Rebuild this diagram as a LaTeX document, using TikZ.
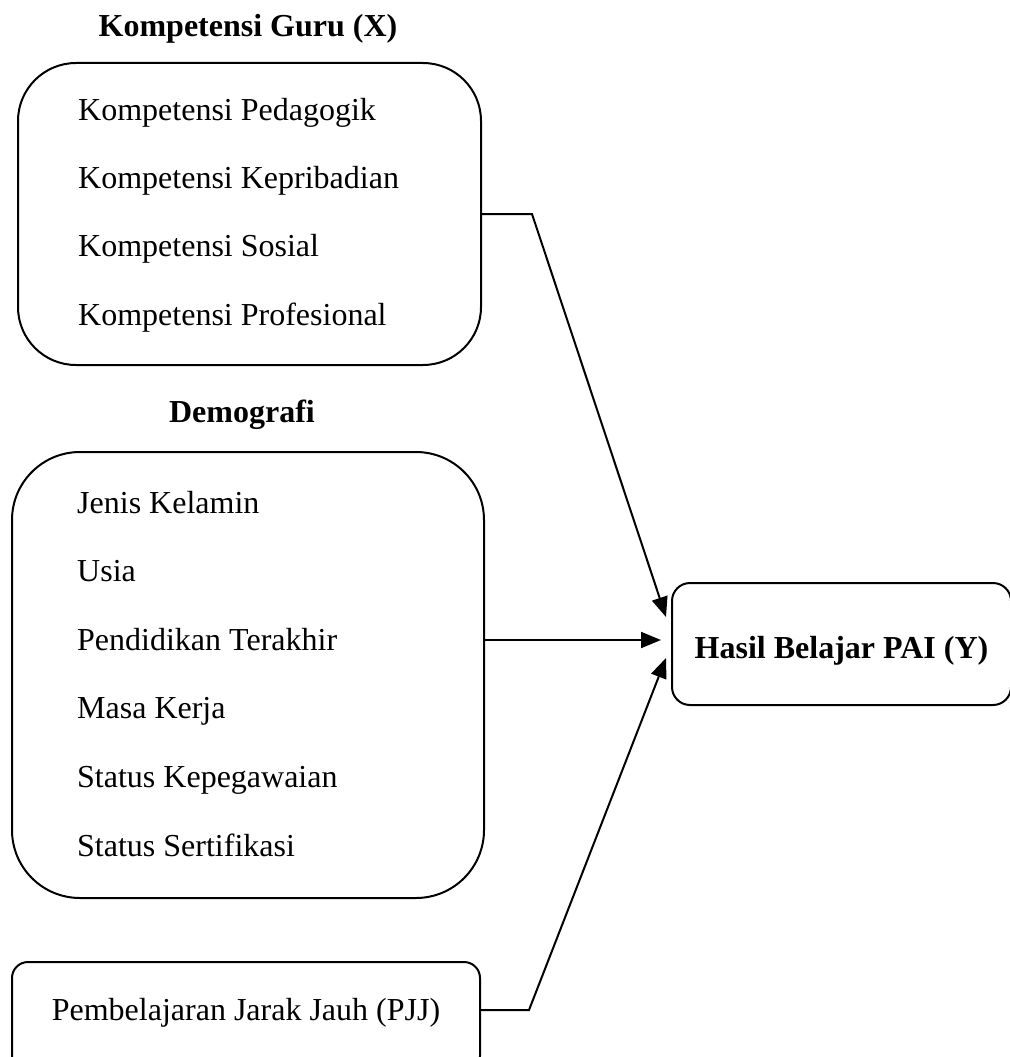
\documentclass[tikz,border=0pt]{standalone}
\usepackage{fontspec}
\setmainfont{Liberation Serif}
\usepackage{tikz}
\usetikzlibrary{shapes,arrows.meta}
\newcommand{\grupbox}[5] {\node at (#1) (#2) [rectangle, draw, line width=2pt, rounded corners=#5, minimum width=#3, minimum height=#4] {};}
\newcommand{\textbox}[7] {\node at (#1) (#2) [rectangle, draw, line width=2pt, rounded corners=#5, minimum width=#3, minimum height=#4, inner sep=0pt, #7] {#6};}
\newcommand{\butir}[3] {\node at (#1) (#2) [anchor=base west, inner sep=0pt] {#3};}
\newcommand{\judul}[3] {\node at (#1) (#2) [anchor=base, inner sep=0pt, font=\fontsize{32}{38}\selectfont\bfseries] {#3};}
\newcommand{\panah}[3] {\draw [line width=2pt, -{Triangle[length=20pt,width=16pt]}] (#1) -- (#2) -- (#3);}

\begin{document}
\begin{tikzpicture}[x=1pt, y=-1pt, font=\fontsize{32}{38}\selectfont]

\useasboundingbox (0,0) rectangle (1009,1057);

\judul{248,37}{judulX}{Kompetensi Guru (X)}
\grupbox{249.5,214}{kompetensi}{463pt}{302pt}{58pt}
\butir{78,120}{k1}{Kompetensi Pedagogik}
\butir{78,188.3}{k2}{Kompetensi Kepribadian}
\butir{78,256.6}{k3}{Kompetensi Sosial}
\butir{78,325}{k4}{Kompetensi Profesional}

\judul{242,422}{judulD}{Demografi}
\grupbox{248,675}{demografi}{472pt}{446pt}{68pt}
\butir{77,513}{d1}{Jenis Kelamin}
\butir{77,581.6}{d2}{Usia}
\butir{77,650.2}{d3}{Pendidikan Terakhir}
\butir{77,718.8}{d4}{Masa Kerja}
\butir{77,787.4}{d5}{Status Kepegawaian}
\butir{77,856}{d6}{Status Sertifikasi}

\textbox{246,1017}{pjj}{468pt}{110pt}{16pt}{Pembelajaran Jarak Jauh (PJJ)}{text height=22pt, text depth=16pt}
\textbox{841.5,644}{hasil}{339pt}{122pt}{18pt}{Hasil Belajar PAI (Y)}{font=\fontsize{32}{38}\selectfont\bfseries, text height=35pt, text depth=7pt}

\coordinate (mulaiP) at ([yshift=7pt]pjj.east);
\coordinate (belokX) at ([xshift=50pt]kompetensi.east);
\coordinate (mulaiD) at ([yshift=35pt]demografi.east);
\coordinate (belokP) at ([xshift=48pt]mulaiP);
\coordinate (ujungX) at ([xshift=-5pt, yshift=27pt]hasil.west);
\coordinate (ujungD) at ([xshift=-10pt, yshift=4pt]hasil.west);
\coordinate (ujungP) at ([xshift=-5pt, yshift=-14pt]hasil.west);

\panah{kompetensi.east}{belokX}{ujungX}
\panah{mulaiD}{mulaiD}{ujungD}
\panah{mulaiP}{belokP}{ujungP}

\end{tikzpicture}
\end{document}
